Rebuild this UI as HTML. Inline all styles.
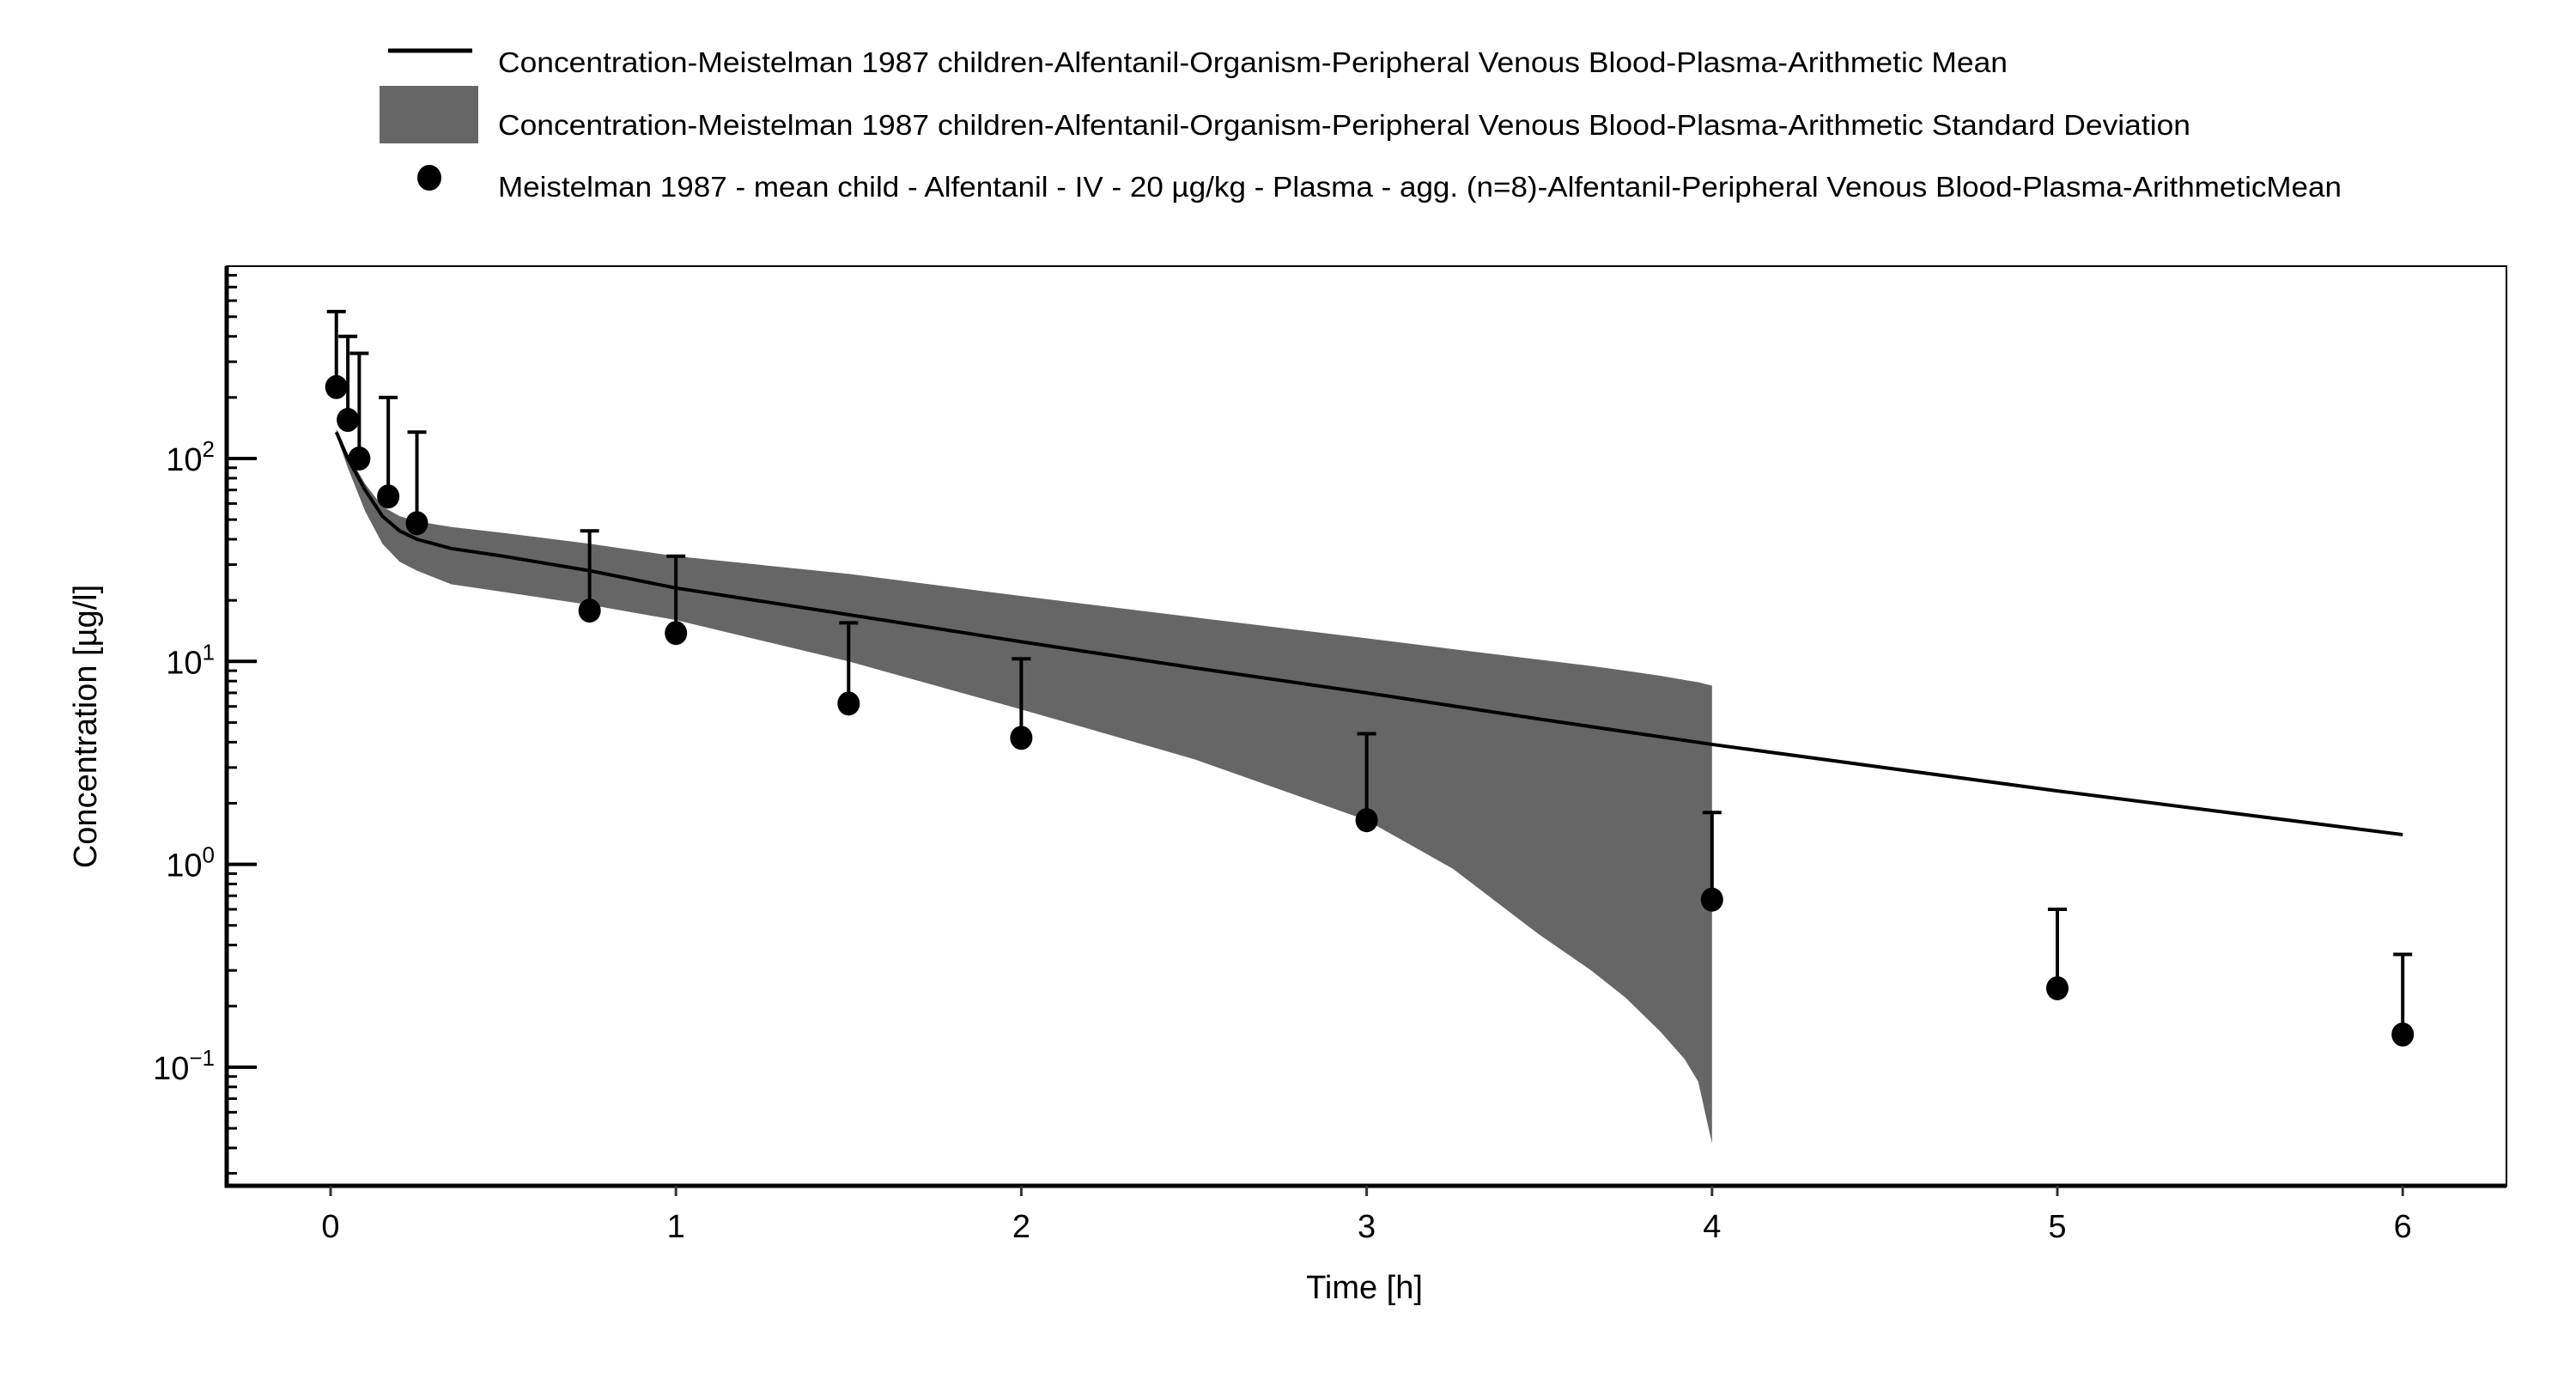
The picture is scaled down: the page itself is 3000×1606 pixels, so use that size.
<!DOCTYPE html>
<html><head><meta charset="utf-8"><style>
html,body{margin:0;padding:0;background:#fff;}
svg{display:block;font-family:"Liberation Sans",sans-serif;}
</style></head><body>
<svg id="chart" width="3000" height="1606" viewBox="0 0 3000 1606">
<g>
<line x1="452" y1="59" x2="550" y2="59" stroke="#000" stroke-width="5"/>
<text x="580" y="84" font-size="33" textLength="1758" lengthAdjust="spacingAndGlyphs">Concentration-Meistelman 1987 children-Alfentanil-Organism-Peripheral Venous Blood-Plasma-Arithmetic Mean</text>
<rect x="442" y="100" width="115" height="67" fill="#666"/>
<text x="580" y="157" font-size="33" textLength="1971" lengthAdjust="spacingAndGlyphs">Concentration-Meistelman 1987 children-Alfentanil-Organism-Peripheral Venous Blood-Plasma-Arithmetic Standard Deviation</text>
<ellipse cx="500" cy="207" rx="14" ry="15" fill="#000"/>
<text x="580" y="229" font-size="33" textLength="2147" lengthAdjust="spacingAndGlyphs">Meistelman 1987 - mean child - Alfentanil - IV - 20 µg/kg - Plasma - agg. (n=8)-Alfentanil-Peripheral Venous Blood-Plasma-ArithmeticMean</text>
</g>
<g id="plot"></g>
<text x="1589" y="1512" font-size="38" text-anchor="middle">Time [h]</text>
<text transform="translate(112,846) rotate(-90)" font-size="38" text-anchor="middle">Concentration [µg/l]</text>
</svg>
<script>
const obsTime=[0.0167,0.05,0.083,0.167,0.25,0.75,1,1.5,2,3,4,5,6];
const obsMean=[225,155,100,65,48,17.8,13.8,6.2,4.2,1.65,0.67,0.245,0.145];
const obsUpper=[530,400,330,200,135,44,33,15.5,10.3,4.4,1.8,0.6,0.36];
const simTime=[0.0167,0.05,0.1,0.15,0.2,0.25,0.35,0.5,0.75,1,1.5,2,2.5,3,3.5,4,5,6];
const simMean=[135,100,70,52,44,40,36,33,28,23,17,12.5,9.3,7,5.2,3.9,2.3,1.4];
const sdTime=[0.0167,0.05,0.1,0.15,0.2,0.25,0.35,0.5,0.75,1,1.5,2,2.5,3,3.25,3.5,3.65,3.75,3.85,3.92,3.96,4];
const sdUpper=[140,105,75,58,52,49,46,43,38,33,27,21,16.5,13,11.5,10.2,9.5,9,8.5,8.1,7.9,7.6];
const sdLower=[130,90,55,38,31,28,24,22,19,16,10,5.8,3.3,1.65,0.95,0.45,0.3,0.22,0.15,0.11,0.085,0.042];
const xTicks=[0,1,2,3,4,5,6];
const yDecades=[-1,0,1,2];
const NS="http://www.w3.org/2000/svg";
const L=264,R=2919,T=310,B=1381;
function X(t){return 385+t*402.2;}
function Y(v){return 534-(Math.log10(v)-2)*236.3;}
const g=document.getElementById('plot');
function mk(tag,attrs){const e=document.createElementNS(NS,tag);for(const k in attrs)e.setAttribute(k,attrs[k]);g.appendChild(e);return e;}
let d='';
sdTime.forEach((t,i)=>{d+=(i?'L':'M')+X(t)+','+Y(sdUpper[i]);});
for(let i=sdTime.length-1;i>=0;i--)d+='L'+X(sdTime[i])+','+Y(sdLower[i]);
const band=mk('path',{d:d+'Z',fill:'#666'});


const ml=mk('polyline',{points:simTime.map((t,i)=>X(t)+','+Y(simMean[i])).join(' '),fill:'none',stroke:'#000','stroke-width':4});


obsTime.forEach((t,i)=>{
  const x=X(t),y=Y(obsMean[i]),yt=Y(obsUpper[i]);
  const eb=mk('path',{d:`M${x},${y}L${x},${yt}M${x-11},${yt}L${x+11},${yt}`,stroke:'#000','stroke-width':4,fill:'none'});
  
  
  const c=mk('ellipse',{cx:x,cy:y,rx:13,ry:14,fill:'#000'});
  
  
});
const fr=mk('rect',{x:L,y:T,width:R-L,height:B-T,fill:'none',stroke:'#000','stroke-width':2});


const ax=mk('path',{d:`M${L},${T}L${L},${B}L${R},${B}`,fill:'none',stroke:'#000','stroke-width':5});


xTicks.forEach(t=>{
  const tk=mk('line',{x1:X(t),y1:B,x2:X(t),y2:B+12,stroke:'#333','stroke-width':3});
  
  
  const tl=mk('text',{x:X(t),y:B+60,'font-size':38,'text-anchor':'middle'});
  tl.textContent=t;
  
  
});
for(let e=-2;e<=2;e++){
  for(let m=1;m<10;m++){
    const v=m*Math.pow(10,e);const y=Y(v);
    if(y<T||y>B)continue;
    const len=m===1?35:12;
    const tk=mk('line',{x1:L,y1:y,x2:L+len,y2:y,stroke:'#000','stroke-width':m===1?4:3});
    
    
  }
}
yDecades.forEach(e=>{
  const tl=mk('text',{x:250,y:Y(Math.pow(10,e))+14,'font-size':38,'text-anchor':'end'});
  tl.innerHTML='10<tspan dy="-16" font-size="26">'+(e<0?'\u2212'+(-e):e)+'</tspan>';
  
  
});
</script>
</body></html>
